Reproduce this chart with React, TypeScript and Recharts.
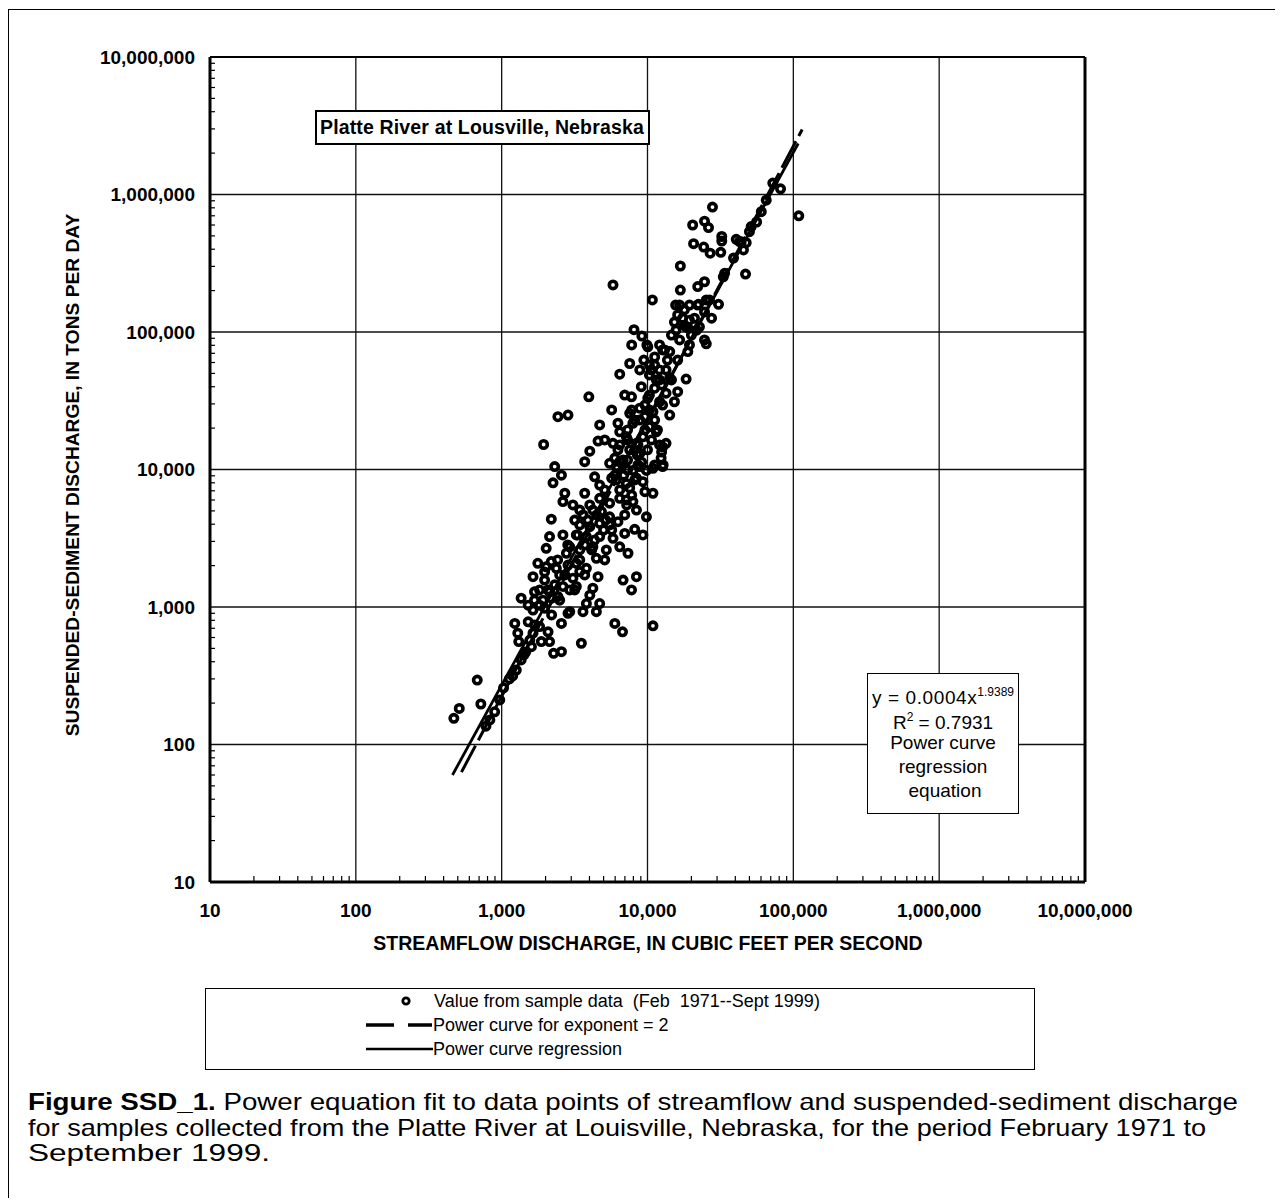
import React from 'react';
import { ScatterChart, Scatter, XAxis, YAxis, ReferenceLine } from 'recharts';

// decade ticks shared by both log axes
const majorTicks = [10, 100, 1000, 10000, 100000, 1000000, 10000000];
const minorSteps = [2, 3, 4, 5, 6, 7, 8, 9];

// [streamflow cfs, suspended sediment tons/day]
const samplePoints: [number, number][] = [
  [27900, 810000], [20400, 600000], [24600, 640000], [26200, 575000], [32300, 495000], [32300, 459000], [20700, 439000], [24300, 415000], [26900, 374000], [31800, 380000],
  [40600, 472000], [43900, 454000], [47500, 446000], [16800, 302000], [47000, 264000], [24600, 232000], [22100, 214000], [16800, 202000], [10800, 171000], [30700, 159000],
  [22400, 159000], [81700, 1100000], [109000, 700000], [5800, 220000], [25300, 171000], [22100, 157000], [16600, 157000], [17900, 145000], [16100, 133000], [19400, 122000],
  [17900, 112000], [15300, 118000], [18400, 109000], [22700, 109000], [33100, 252000], [51400, 584000], [60300, 750000], [72300, 1210000], [65200, 910000], [50000, 537000],
  [42800, 454000], [33800, 267000], [26600, 171000], [38900, 345000], [45500, 395000], [56000, 631000], [15700, 103000], [24600, 87500], [25300, 82000],
  [8080, 104000], [9150, 93500], [7790, 80600], [10050, 78000], [12100, 80600], [12700, 74000], [14200, 72000], [18900, 72000], [16100, 62500], [7550, 59000],
  [8850, 53000], [10600, 53000], [12100, 53000], [13400, 53000], [6450, 49300], [11500, 44800], [18400, 45500], [9070, 40000], [11200, 39000], [13400, 35900],
  [16100, 36800], [15300, 31100], [3960, 33800], [7770, 33800], [10050, 33000], [12100, 31100], [8850, 27900], [10900, 26300], [14200, 24900], [2850, 24900],
  [2430, 24200], [7550, 25600], [9600, 24200], [4700, 21100], [6270, 21700], [7940, 21700], [10300, 20500], [11500, 18800], [6450, 18800], [7160, 17300],
  [9300, 17300], [4580, 16100], [5800, 15500], [8400, 15500], [13400, 15500], [4020, 13600], [6270, 13900], [8850, 13100], [12500, 13400], [3710, 11400],
  [6450, 11400], [8850, 10500], [12400, 12100], [12700, 10500], [1940, 15200], [9440, 62500], [11200, 65800], [10300, 34800], [12500, 41200], [9600, 29400],
  [8170, 22900], [9600, 19400], [10650, 16400], [7550, 13900], [11200, 10800], [14600, 44800], [16600, 87500], [20000, 95000], [6980, 34800], [5680, 27100],
  [5090, 16400], [5500, 11100], [7300, 9900], [6450, 15100], [12700, 14600],
  [2310, 10500], [2570, 9100], [2250, 8000], [6120, 10500], [6800, 11700], [8600, 10800], [9840, 9840], [10900, 10200], [12800, 10800], [4340, 8850],
  [4700, 7700], [6120, 8400], [7160, 7900], [8170, 8400], [9300, 8150], [10900, 6720], [9600, 6900], [2710, 6720], [3710, 6720], [2630, 5840],
  [3080, 5530], [4700, 6170], [5500, 5690], [6450, 6170], [7160, 6000], [7940, 5840], [8400, 5070], [9830, 4530], [2190, 4350], [3610, 4670],
  [4220, 5070], [4830, 4940], [5500, 4530], [3430, 3950], [4020, 3840], [4700, 4060], [5500, 3950], [6270, 4170], [2130, 3250], [2630, 3340],
  [3250, 3340], [3810, 3250], [4700, 3250], [5800, 3160], [6980, 3430], [8170, 3670], [9300, 3340], [2020, 2670], [2930, 2740], [3430, 2600],
  [4220, 2740], [5220, 2600], [6450, 2740], [7350, 2460], [2780, 2460], [4460, 2260], [5090, 2200], [1770, 2080], [2190, 2140], [2370, 1910],
  [2020, 1960], [3250, 2080], [3810, 1910], [3430, 1810], [1640, 1660], [1970, 1570], [2500, 1710], [3080, 1620], [4580, 1660], [6800, 1570],
  [8400, 1660], [7770, 1330], [1680, 1290], [2130, 1290], [2630, 1410], [3250, 1410], [4220, 1370], [1360, 1160], [1920, 1120], [2430, 1190],
  [4020, 1220], [4700, 1060], [3810, 1060], [3170, 4290], [4020, 5530], [5090, 7100], [5970, 9100], [2840, 2830], [2420, 2200], [4340, 3070],
  [5680, 3630], [6980, 4670], [7790, 6500], [3710, 1710], [2930, 1330], [2080, 1330], [2500, 1120], [1520, 1030], [8520, 12700], [7300, 16400],
  [11200, 22900], [12700, 29400], [10300, 48700], [13700, 62500], [19400, 80600], [21700, 103000], [27500, 126000], [21000, 126000], [24600, 140000], [14600, 95000],
  [1640, 950], [1970, 980], [2930, 925], [2850, 900], [3610, 925], [4460, 925], [1230, 760], [1520, 780], [1820, 720], [2570, 760],
  [5970, 760], [6740, 660], [10900, 730], [1290, 645], [1640, 645], [2080, 660], [1310, 560], [1600, 515], [1870, 560], [2130, 560],
  [3520, 545], [2270, 460], [2570, 473], [680, 294], [720, 197], [512, 183], [470, 155], [830, 151], [895, 173], [970, 211],
  [1260, 348], [1360, 412], [780, 136], [1130, 300], [1460, 470], [1560, 575], [1820, 1030], [2200, 875], [1680, 1120],
  // dense core along the fitted line
  [6200, 10250], [6870, 9100], [7550, 7340], [6450, 7100], [7200, 5530], [7940, 9840], [3430, 5070], [3900, 4290], [4480, 4670], [5000, 3630],
  [3710, 2830], [4140, 2600], [3320, 3340], [5170, 4290], [1970, 1800], [2310, 1450], [2710, 1710], [3170, 1330], [2200, 1160], [2850, 2020],
  [1820, 1330], [3430, 2200], [15600, 157000], [17400, 126000], [19400, 157000], [18900, 107000], [9900, 80600], [11200, 57500], [13100, 74000], [14200, 46300],
  [12100, 44800], [10300, 57500], [7790, 27100], [8850, 22900], [10300, 27100], [11700, 19400], [8600, 15100], [10000, 13900], [7300, 19400], [12100, 15100],
  [5970, 12100], [7300, 11700], [9120, 11300], [5680, 8670], [8400, 8670], [1030, 258], [1190, 315], [1420, 448], [1680, 740],
];

// end points of the two fitted curves (straight on log-log axes)
const regressionEnds: [number, number][] = [[460, 60], [108000, 2350000]];
const exponent2Ends: [number, number][] = [[530, 63], [115000, 2970000]];

const FONT = '"Liberation Sans", Arial, Helvetica, sans-serif';

const allTicks: number[] = [];
majorTicks.forEach((m, i) => {
  allTicks.push(m);
  if (i < majorTicks.length - 1) minorSteps.forEach((k) => allTicks.push(m * k));
});

const fmt = (v: number) => v.toLocaleString('en-US');
const toXY = (pts: [number, number][]) => pts.map(([x, y]) => ({ x, y }));

const XTick = (props: any) => {
  const { x, y, payload } = props;
  const major = majorTicks.includes(payload.value);
  return (
    <g>
      {!major && <line x1={x} y1={y} x2={x} y2={y - 6} stroke="#000" strokeWidth={1.2} />}
      {major && (
        <text x={x} y={y + 35} textAnchor="middle" fontSize={19} fontWeight="bold" fontFamily={FONT} fill="#000">
          {fmt(payload.value)}
        </text>
      )}
    </g>
  );
};

const YTick = (props: any) => {
  const { x, y, payload } = props;
  const major = majorTicks.includes(payload.value);
  return (
    <g>
      {!major && <line x1={x} y1={y} x2={x + 5} y2={y} stroke="#000" strokeWidth={1.2} />}
      {major && (
        <text x={x - 15} y={y} dy="0.36em" textAnchor="end" fontSize={19} fontWeight="bold" fontFamily={FONT} fill="#000">
          {fmt(payload.value)}
        </text>
      )}
    </g>
  );
};

const Ring = (p: any) => (
  <circle cx={p.cx} cy={p.cy} r={3.7} fill="none" stroke="#000" strokeWidth={3.6} />
);
const NoDot = () => <g />;

export default function App() {
  const inner = majorTicks.slice(1, -1);
  return (
    <div style={{ position: 'relative', width: 1273, height: 1190, fontFamily: FONT, color: '#000' }}>
      <style>{'html,body{overflow:hidden;background:#fff}'}</style>
      <div style={{ position: 'absolute', left: 0, top: 1, width: 1273, height: 1300, border: '1.5px solid #000', boxSizing: 'border-box' }} />

      <div style={{ position: 'absolute', left: 0, top: 0 }}>
        <ScatterChart width={1273} height={1000} margin={{ top: 49, right: 196, bottom: 66, left: 0 }}>
          <XAxis
            type="number"
            dataKey="x"
            scale="log"
            domain={[10, 10000000]}
            ticks={allTicks}
            interval={0}
            height={60}
            tickSize={0}
            tickMargin={0}
            tickLine={false}
            axisLine={{ stroke: '#000', strokeWidth: 3 }}
            tick={<XTick />}
            allowDataOverflow
          />
          <YAxis
            type="number"
            dataKey="y"
            scale="log"
            domain={[10, 10000000]}
            ticks={allTicks}
            interval={0}
            width={202}
            tickSize={0}
            tickMargin={0}
            tickLine={false}
            axisLine={{ stroke: '#000', strokeWidth: 3 }}
            tick={<YTick />}
            allowDataOverflow
          />
          {inner.map((v) => (
            <ReferenceLine key={`gx${v}`} x={v} stroke="#111" strokeWidth={1.3} />
          ))}
          {inner.map((v) => (
            <ReferenceLine key={`gy${v}`} y={v} stroke="#111" strokeWidth={1.3} />
          ))}
          <ReferenceLine x={10000000} stroke="#000" strokeWidth={3} />
          <ReferenceLine y={10000000} stroke="#000" strokeWidth={2} />
          <Scatter
            data={toXY(exponent2Ends)}
            line={{ stroke: '#000', strokeWidth: 3, strokeDasharray: '30 6' }}
            shape={NoDot}
            isAnimationActive={false}
          />
          <Scatter
            data={toXY(regressionEnds)}
            line={{ stroke: '#000', strokeWidth: 2.8 }}
            shape={NoDot}
            isAnimationActive={false}
          />
          <Scatter data={toXY(samplePoints)} shape={Ring} isAnimationActive={false} />
        </ScatterChart>
      </div>

      {/* axis titles */}
      <div
        style={{
          position: 'absolute', left: 640 - 400, top: 935 - 12, width: 800, textAlign: 'center',
          fontSize: 19.5, fontWeight: 'bold', lineHeight: '24px', whiteSpace: 'nowrap',
        }}
      >
        STREAMFLOW DISCHARGE, IN CUBIC FEET PER SECOND
      </div>
      <div
        style={{
          position: 'absolute', left: 65 - 400, top: 467 - 12, width: 800, textAlign: 'center',
          fontSize: 19.2, fontWeight: 'bold', lineHeight: '24px', whiteSpace: 'nowrap',
          transform: 'rotate(-90deg)',
        }}
      >
        SUSPENDED-SEDIMENT DISCHARGE, IN TONS PER DAY
      </div>

      {/* station box */}
      <div
        style={{
          position: 'absolute', left: 307, top: 102, width: 335, height: 35, boxSizing: 'border-box',
          border: '2px solid #000', background: '#fff', fontSize: 19.5, fontWeight: 'bold',
          lineHeight: '31px', paddingLeft: 3, letterSpacing: 0.15, whiteSpace: 'nowrap',
        }}
      >
        Platte River at Lousville, Nebraska
      </div>

      {/* equation box */}
      <div
        style={{
          position: 'absolute', left: 859, top: 665, width: 152, height: 141, boxSizing: 'border-box',
          border: '1px solid #000', background: '#fff', fontSize: 19, textAlign: 'center', paddingTop: 3,
        }}
      >
        <div style={{ height: 28, lineHeight: '30px', whiteSpace: 'nowrap', letterSpacing: 0.6 }}>
          y = 0.0004x<sup style={{ fontSize: 12, verticalAlign: 8, letterSpacing: 0 }}>1.9389</sup>
        </div>
        <div style={{ height: 25, lineHeight: '25px' }}>
          R<sup style={{ fontSize: 12, verticalAlign: 8 }}>2</sup> = 0.7931
        </div>
        <div style={{ height: 25, lineHeight: '25px' }}>Power curve</div>
        <div style={{ height: 24, lineHeight: '24px' }}>regression</div>
        <div style={{ height: 24, lineHeight: '24px', paddingLeft: 4 }}>equation</div>
      </div>

      {/* legend */}
      <div
        style={{
          position: 'absolute', left: 197, top: 980, width: 830, height: 82, boxSizing: 'border-box',
          border: '1px solid #000', background: '#fff', fontSize: 18,
        }}
      >
        <svg width={830} height={82} style={{ position: 'absolute', left: 0, top: 0 }}>
          <circle cx={200} cy={12} r={3.2} fill="none" stroke="#000" strokeWidth={2.8} />
          <line x1={160} y1={36} x2={188} y2={36} stroke="#000" strokeWidth={3.5} />
          <line x1={202} y1={36} x2={226} y2={36} stroke="#000" strokeWidth={3.5} />
          <line x1={160} y1={60} x2={227} y2={60} stroke="#000" strokeWidth={2.5} />
        </svg>
        <div style={{ position: 'absolute', left: 228, top: 0, lineHeight: '24px', whiteSpace: 'pre' }}>
          {'Value from sample data  (Feb  1971--Sept 1999)'}
        </div>
        <div style={{ position: 'absolute', left: 227, top: 24, lineHeight: '24px', whiteSpace: 'pre' }}>
          Power curve for exponent = 2
        </div>
        <div style={{ position: 'absolute', left: 227, top: 48, lineHeight: '24px', whiteSpace: 'pre' }}>
          Power curve regression
        </div>
      </div>

      {/* caption */}
      <svg width={1273} height={100} style={{ position: 'absolute', left: 0, top: 1072 }} fontFamily={FONT} fontSize={24}>
        <text x={20} y={30} textLength={1210} lengthAdjust="spacingAndGlyphs">
          <tspan fontWeight="bold">Figure SSD_1.</tspan> Power equation fit to data points of streamflow and suspended-sediment discharge
        </text>
        <text x={20} y={56} textLength={1178} lengthAdjust="spacingAndGlyphs">
          for samples collected from the Platte River at Louisville, Nebraska, for the period February 1971 to
        </text>
        <text x={20} y={81} textLength={242} lengthAdjust="spacingAndGlyphs">
          September 1999.
        </text>
      </svg>
    </div>
  );
}
